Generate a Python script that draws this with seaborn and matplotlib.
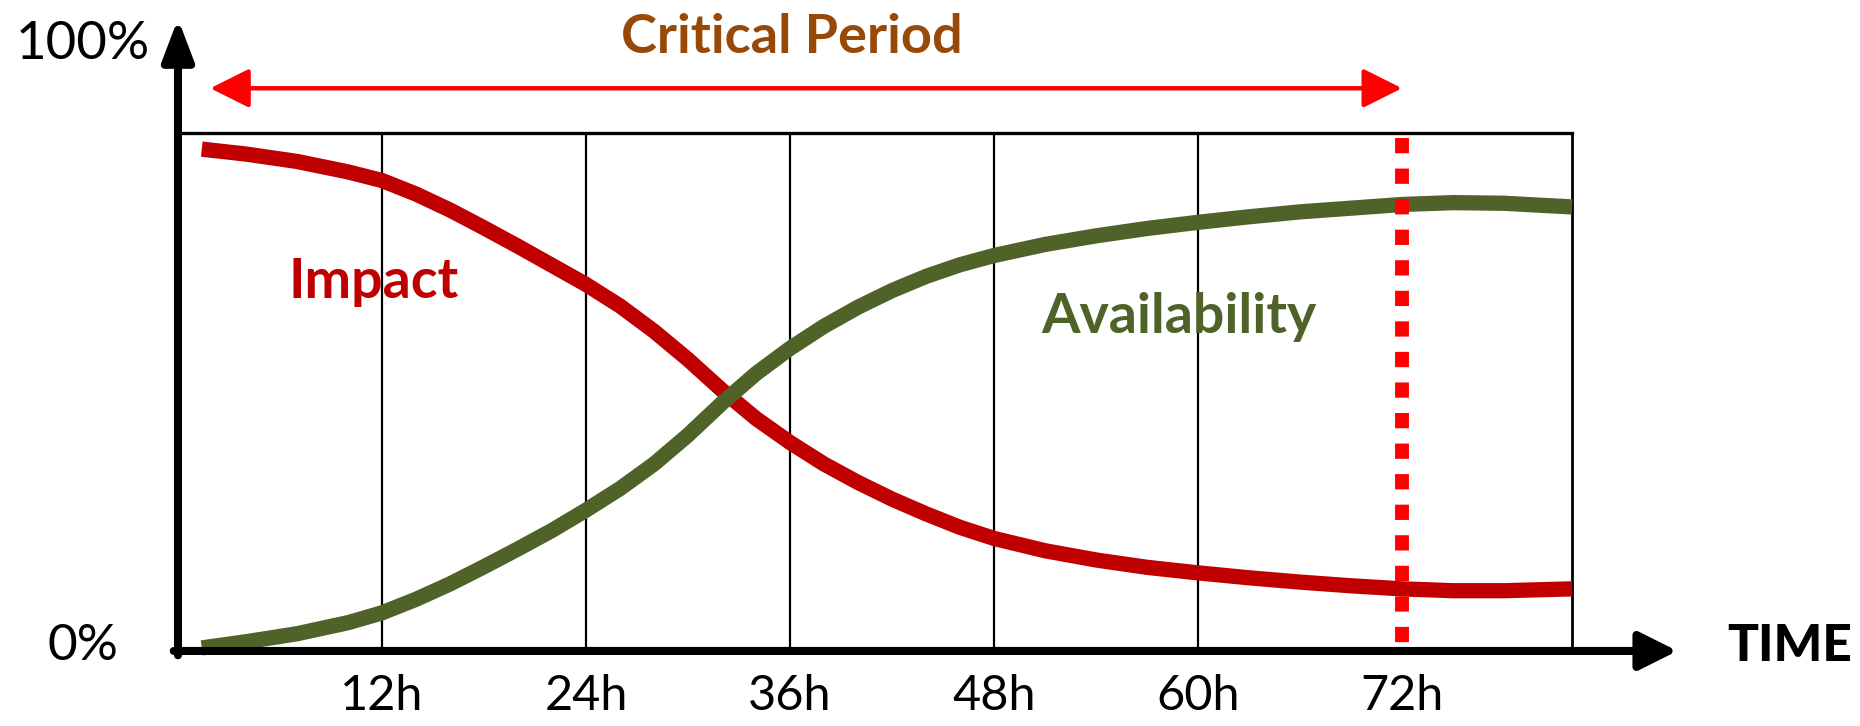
import numpy as np
import pandas as pd
import matplotlib
matplotlib.use('Agg')
import matplotlib.pyplot as plt
import seaborn as sns

sns.set_style('white')
plt.rcParams['font.family'] = ['Lato', 'DejaVu Sans']
plt.rcParams['text.color'] = 'black'

# ---- data (hours vs. percent) ----
hours = [1.4, 4, 7, 10, 12, 14, 16, 18, 20, 22, 24, 26, 28, 30, 32, 34, 36,
         38, 40, 42, 44, 46, 48, 51, 54, 57, 60, 63, 66, 69, 72, 75, 78, 82]
impact = [81.6, 80.8, 79.6, 77.9, 76.5, 74.3, 71.7, 68.8, 65.8, 62.7, 59.6,
          56.1, 52.0, 47.4, 42.4, 37.8, 33.9, 30.4, 27.4, 24.7, 22.3, 20.1,
          18.3, 16.3, 14.8, 13.6, 12.7, 11.9, 11.2, 10.6, 10.1, 9.8, 9.8, 10.1]
availability = [0.5, 1.5, 2.8, 4.6, 6.2, 8.4, 10.9, 13.7, 16.6, 19.6, 22.9,
                26.4, 30.4, 35.1, 40.3, 45.1, 49.2, 52.8, 55.9, 58.6, 60.9,
                62.8, 64.3, 66.1, 67.5, 68.7, 69.7, 70.6, 71.4, 72.0, 72.6,
                72.9, 72.8, 72.2]

grid_hours = [12, 24, 36, 48, 60]
tick_labels = ['12h', '24h', '36h', '48h', '60h', '72h']
tick_hours = [12, 24, 36, 48, 60, 72]
critical_end = 72
box_right = 82
box_top = 84.2

IMPACT_C = '#C00000'
AVAIL_C = '#4F6228'
RED = '#FF0000'
BROWN = '#984807'

df = pd.DataFrame({'hours': hours * 2,
                   'value': impact + availability,
                   'series': ['Impact'] * len(hours) + ['Availability'] * len(hours)})

fig = plt.figure(figsize=(18.6, 7.26), dpi=100)
ax = fig.add_axes([0, 0, 1, 1])

# grid / box
for h in grid_hours:
    ax.plot([h, h], [0, box_top], color='black', lw=1.6, zorder=1)
ax.plot([0, box_right], [box_top, box_top], color='black', lw=2.4, zorder=1,
        solid_capstyle='projecting')
ax.plot([box_right, box_right], [0, box_top], color='black', lw=2.0, zorder=1)

# curves
sns.lineplot(data=df, x='hours', y='value', hue='series',
             palette={'Impact': IMPACT_C, 'Availability': AVAIL_C},
             lw=11, legend=False, sort=False, ax=ax, zorder=3)
for ln in ax.lines[-2:]:
    ln.set_solid_capstyle('butt')
    ln.set_solid_joinstyle('round')
ax.set_xlim(-10.47, 98.94)
ax.set_ylim(-12.2, 105.85)
ax.axis('off')

# 72h dashed marker
ax.plot([critical_end, critical_end], [box_top - 0.8, 0], color=RED, lw=10,
        linestyle=(0, (1.1, 1.1)), dash_capstyle='butt', zorder=4)

# axes with arrows
ax.annotate('', xy=(0, 102.8), xytext=(0, -0.7),
            arrowprops=dict(arrowstyle='-|>,head_length=25,head_width=9.5',
                            mutation_scale=1, lw=5.8, color='black',
                            shrinkA=0, shrinkB=0), zorder=5)
ax.annotate('', xy=(88.2, 0), xytext=(-0.25, 0),
            arrowprops=dict(arrowstyle='-|>,head_length=23,head_width=11.5',
                            mutation_scale=1, lw=5.8, color='black',
                            shrinkA=0, shrinkB=0), zorder=5)

# critical period double arrow
ax.annotate('', xy=(1.9, 91.5), xytext=(critical_end, 91.5),
            arrowprops=dict(arrowstyle='<|-|>,head_length=24,head_width=12',
                            mutation_scale=1, lw=3.2, color=RED,
                            shrinkA=0, shrinkB=0), zorder=5)
ax.text(36.1, 97.2, 'Critical Period', color=BROWN, fontsize=39,
        fontweight='bold', ha='center', va='baseline')

# labels
ax.text(11.5, 57.4, 'Impact', color=IMPACT_C, fontsize=40,
        fontweight='bold', ha='center', va='baseline')
ax.text(58.9, 51.7, 'Availability', color=AVAIL_C, fontsize=40,
        fontweight='bold', ha='center', va='baseline')

ax.text(-5.6, 96.2, '100%', fontsize=38, color='black', ha='center', va='baseline')
ax.text(-5.6, -1.5, '0%', fontsize=37, color='black', ha='center', va='baseline')
for h, lab in zip(tick_hours, tick_labels):
    ax.text(h, -9.6, lab, fontsize=35, color='black', ha='center', va='baseline')
ax.text(94.8, -1.6, 'TIME', fontsize=37, fontweight='black', color='black',
        ha='center', va='baseline')

fig.savefig('out.png', dpi=100)
